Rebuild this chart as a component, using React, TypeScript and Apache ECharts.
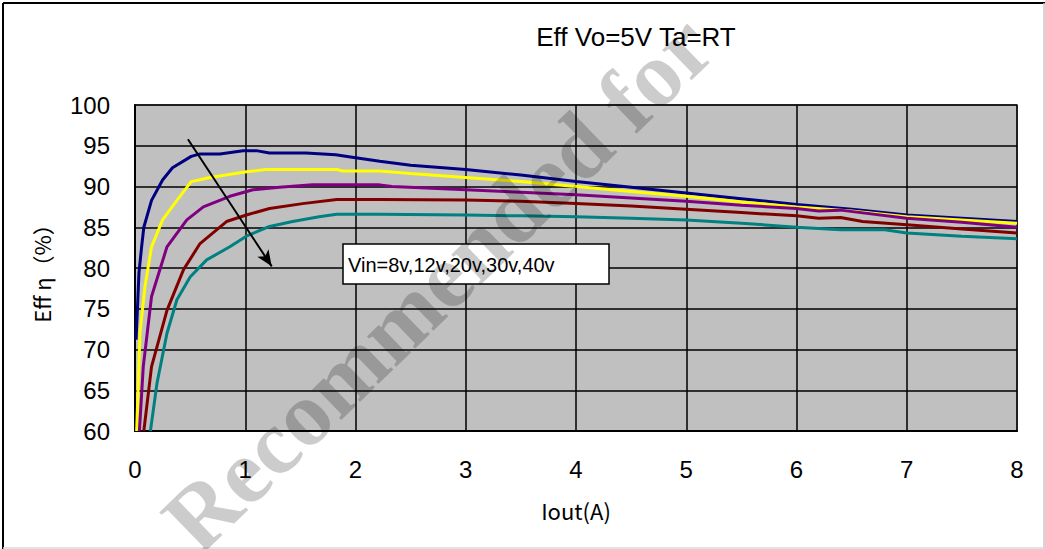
import React, { useEffect, useRef } from "react";
import * as echarts from "echarts";

// Iout (A) and efficiency (%) for each input voltage
const iout8 = [0.01, 0.036, 0.06, 0.08, 0.15, 0.25, 0.34, 0.51, 0.59, 0.77, 0.98, 1.1, 1.22, 1.55, 1.82, 1.97, 2.22, 2.5, 3.0, 3.5, 4.0, 4.5, 5.0, 5.5, 6.0, 6.5, 7.0, 7.5, 8.0];
const eff8 = [71.2, 79.4, 82.6, 85.0, 88.3, 90.8, 92.3, 93.7, 94.0, 94.0, 94.4, 94.4, 94.1, 94.1, 93.9, 93.6, 93.1, 92.6, 92.1, 91.4, 90.6, 89.9, 89.2, 88.5, 87.8, 87.2, 86.5, 86.1, 85.7];

const iout12 = [0.015, 0.045, 0.09, 0.15, 0.25, 0.38, 0.51, 0.68, 1.01, 1.19, 1.5, 1.83, 1.88, 2.22, 2.5, 3.0, 3.5, 4.0, 4.5, 5.0, 5.5, 6.0, 6.5, 7.0, 7.5, 8.0];
const eff12 = [60, 72, 77.7, 82.6, 85.9, 88.3, 90.6, 91.1, 91.8, 92.1, 92.1, 92.1, 91.9, 91.9, 91.6, 91.1, 90.6, 90.0, 89.4, 88.8, 88.1, 87.5, 87.0, 86.3, 85.9, 85.5];

const iout20 = [0.04, 0.075, 0.15, 0.29, 0.47, 0.62, 0.86, 1.07, 1.31, 1.61, 2.0, 2.22, 2.33, 3.0, 3.5, 4.0, 4.5, 5.0, 5.5, 6.0, 6.2, 6.4, 7.0, 7.5, 8.0];
const eff20 = [60, 67.9, 76.5, 82.6, 85.9, 87.5, 88.8, 89.6, 89.9, 90.2, 90.2, 90.2, 90.0, 89.6, 89.3, 89.0, 88.6, 88.2, 87.7, 87.3, 87.0, 87.1, 86.1, 85.6, 85.0];

const iout30 = [0.08, 0.15, 0.29, 0.44, 0.59, 0.83, 1.01, 1.22, 1.52, 1.83, 2.22, 3.0, 3.5, 4.0, 4.5, 5.0, 5.5, 6.0, 6.2, 6.4, 6.6, 7.0, 7.5, 8.0];
const eff30 = [60, 67.9, 74.8, 79.8, 83.0, 85.7, 86.5, 87.3, 87.9, 88.4, 88.4, 88.35, 88.2, 87.9, 87.6, 87.2, 86.8, 86.4, 86.1, 86.2, 85.7, 85.3, 84.8, 84.3];

const iout40 = [0.14, 0.2, 0.29, 0.38, 0.5, 0.65, 0.86, 1.01, 1.22, 1.43, 1.67, 1.83, 2.22, 3.0, 3.5, 4.0, 4.5, 5.0, 5.5, 6.0, 6.4, 6.8, 7.0, 7.5, 8.0];
const eff40 = [60, 65.9, 72.0, 76.1, 78.9, 81.0, 82.6, 83.9, 85.1, 85.7, 86.3, 86.6, 86.6, 86.5, 86.4, 86.3, 86.1, 85.9, 85.5, 85.0, 84.7, 84.7, 84.3, 83.9, 83.6];

const seriesNames = ["Vin=8v", "Vin=12v", "Vin=20v", "Vin=30v", "Vin=40v"];
const seriesColors = ["#000080", "#ffff00", "#800080", "#800000", "#008080"];

// arrow annotation (data coordinates: Iout, Eff)
const arrowStart = [0.48, 95.8];
const arrowEnd = [1.24, 80.2];

const xMin = 0, xMax = 8, xStep = 1;
const yMin = 60, yMax = 100, yStep = 5;

const titleText = "Eff Vo=5V Ta=RT";
const xName = "Iout(A)";
const yName = "Eff η（%）";
const noteText = "Vin=8v,12v,20v,30v,40v";
const watermarkText = "Recommended for";

const zip = (xs: number[], ys: number[]) => xs.map((x, i) => [x, ys[i]]);

export default function App() {
  const ref = useRef<HTMLDivElement>(null);
  useEffect(() => {
    document.body.style.margin = "0";
    const chart = echarts.init(ref.current!, null, { renderer: "svg" });
    const datasets = [
      zip(iout8, eff8),
      zip(iout12, eff12),
      zip(iout20, eff20),
      zip(iout30, eff30),
      zip(iout40, eff40),
    ];
    const font = "'Liberation Sans', Arial, sans-serif";
    const jpFont = "'Noto Sans CJK JP', 'Liberation Sans', sans-serif";
    chart.setOption({
      animation: false,
      backgroundColor: "#ffffff",
      title: {
        text: titleText,
        left: 631,
        top: 19,
        textAlign: "center",
        textStyle: { fontFamily: font, fontSize: 26, fontWeight: "normal", color: "#000" },
      },
      grid: {
        left: 135,
        right: 28,
        top: 105,
        bottom: 118,
        show: true,
        backgroundColor: "#c0c0c0",
        borderColor: "#808080",
        borderWidth: 2,
      },
      xAxis: {
        type: "value",
        min: xMin,
        max: xMax,
        interval: xStep,
        name: xName,
        nameLocation: "middle",
        nameGap: 68,
        nameTextStyle: { fontFamily: jpFont, fontSize: 22, color: "#000" },
        axisLine: { show: true, lineStyle: { color: "#000", width: 2 } },
        axisTick: { show: false },
        axisLabel: { margin: 26, fontFamily: font, fontSize: 24, color: "#000" },
        splitLine: { show: true, lineStyle: { color: "#000", width: 1.5 } },
      },
      yAxis: {
        type: "value",
        min: yMin,
        max: yMax,
        interval: yStep,
        name: yName,
        nameLocation: "middle",
        nameGap: 83,
        nameTextStyle: { fontFamily: jpFont, fontSize: 22, color: "#000" },
        axisLine: { show: true, lineStyle: { color: "#000", width: 2 } },
        axisTick: { show: false },
        axisLabel: { margin: 25, fontFamily: font, fontSize: 24, color: "#000" },
        splitLine: { show: true, lineStyle: { color: "#000", width: 1.5 } },
      },
      series: datasets.map((d, i) => ({
        name: seriesNames[i],
        type: "line",
        data: d,
        showSymbol: false,
        symbol: "none",
        smooth: false,
        clip: true,
        lineStyle: { color: seriesColors[i], width: 3 },
        itemStyle: { color: seriesColors[i] },
        z: 3,
        ...(i === 0
          ? {
              markLine: {
                silent: true,
                symbol: ["none", "arrow"],
                symbolSize: [10, 16],
                label: { show: false },
                lineStyle: { color: "#000", width: 2, type: "solid" },
                data: [[{ coord: arrowStart }, { coord: arrowEnd }]],
                z: 5,
              },
            }
          : {}),
      })),
      graphic: [
        {
          type: "rect",
          shape: { x: 343, y: 244, width: 266, height: 40 },
          style: { fill: "#fff", stroke: "#000", lineWidth: 1.5 },
          z: 50,
        },
        {
          type: "text",
          x: 348,
          y: 265,
          style: {
            text: noteText,
            fontFamily: font,
            fontSize: 20,
            fill: "#000",
            textAlign: "left",
            textVerticalAlign: "middle",
          },
          z: 51,
        },
        { type: "line", shape: { x1: 3, y1: 3, x2: 3, y2: 549 }, style: { stroke: "#000", lineWidth: 2 }, z: 60 },
        { type: "line", shape: { x1: 3, y1: 3, x2: 1045, y2: 3 }, style: { stroke: "#000", lineWidth: 2 }, z: 60 },
        { type: "line", shape: { x1: 1044, y1: 3, x2: 1044, y2: 549 }, style: { stroke: "#c8c8c8", lineWidth: 1.5 }, z: 60 },
        { type: "line", shape: { x1: 3, y1: 548, x2: 1045, y2: 548 }, style: { stroke: "#d8d8d8", lineWidth: 1.5 }, z: 60 },
        {
          type: "text",
          x: 438,
          y: 283,
          rotation: 0.77,
          style: {
            text: watermarkText,
            fontFamily: "'Liberation Serif', 'Times New Roman', serif",
            fontWeight: "bold",
            fontSize: 92,
            fill: "rgba(0,0,0,0.2)",
            textAlign: "center",
            textVerticalAlign: "middle",
          },
          z: 100,
        },
      ],
    });
    return () => chart.dispose();
  }, []);
  return <div ref={ref} style={{ width: 1045, height: 549 }} />;
}
